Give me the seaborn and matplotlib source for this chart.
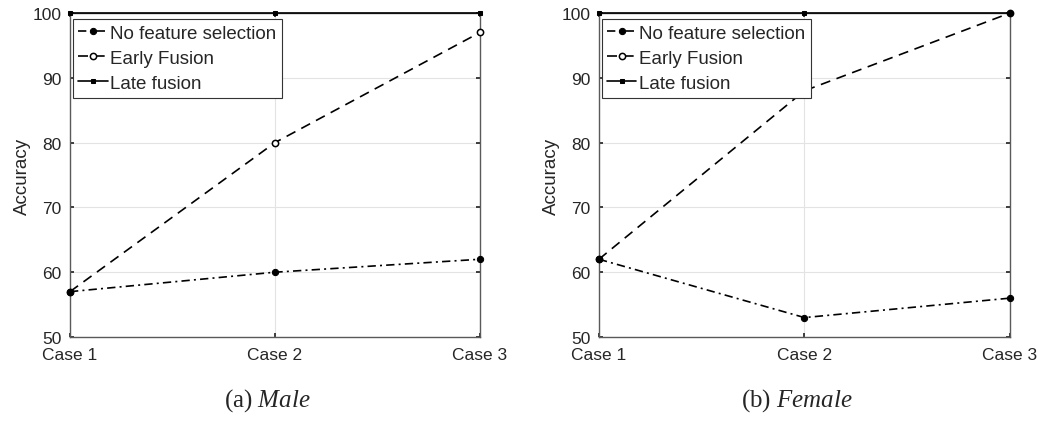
import matplotlib
matplotlib.use("Agg")
import matplotlib.pyplot as plt
import seaborn as sns
import pandas as pd

cases = ["Case 1", "Case 2", "Case 3"]
series_names = ["No feature selection", "Early Fusion", "Late fusion"]

male_no_fs = [57, 60, 62]
male_early = [57, 80, 97]
male_late = [100, 100, 100]

female_no_fs = [62, 53, 56]
female_early = [62, 88, 100]
female_late = [100, 100, 100]

y_ticks = [50, 60, 70, 80, 90, 100]

sns.set_theme(style="whitegrid")
plt.rcParams["font.family"] = ["Liberation Sans", "DejaVu Sans"]
plt.rcParams["mathtext.fontset"] = "custom"
plt.rcParams["mathtext.rm"] = "Liberation Serif"
plt.rcParams["mathtext.it"] = "Liberation Serif:italic"

styles = {
    "No feature selection": dict(linestyle=(0, (5, 2.5, 1.2, 2.5)), marker="o", markersize=4.5,
                                 markerfacecolor="black", markeredgecolor="black", zorder=4),
    "Early Fusion": dict(linestyle=(0, (6, 4)), marker="o", markersize=4.5,
                         markerfacecolor="white", markeredgecolor="black", markeredgewidth=1.1,
                         zorder=3),
    "Late fusion": dict(linestyle="-", marker="s", markersize=3.5,
                        markerfacecolor="black", markeredgecolor="black", zorder=3),
}


def build_frame(no_fs, early, late):
    rows = []
    for name, vals in zip(series_names, [no_fs, early, late]):
        for i, v in enumerate(vals):
            rows.append({"x": i, "Accuracy": v, "series": name})
    return pd.DataFrame(rows)


fig = plt.figure(figsize=(10.38, 4.27), dpi=100)
ax1 = fig.add_axes([0.0674, 0.2084, 0.395, 0.7588])
ax2 = fig.add_axes([0.577, 0.2084, 0.396, 0.7588])

panels = [
    (ax1, build_frame(male_no_fs, male_early, male_late), r"(a) $\mathit{Male}$"),
    (ax2, build_frame(female_no_fs, female_early, female_late), r"(b) $\mathit{Female}$"),
]

for ax, df, caption in panels:
    for name in series_names:
        sub = df[df["series"] == name]
        sns.lineplot(data=sub, x="x", y="Accuracy", ax=ax, color="black",
                     linewidth=1.2, label=name, clip_on=False,
                     **styles[name])
    ax.set_xlim(0, 2)
    ax.set_ylim(50, 100)
    ax.set_xticks(range(len(cases)))
    ax.set_xticklabels(cases)
    ax.set_yticks(y_ticks)
    ax.set_xlabel("")
    ax.set_ylabel("Accuracy", fontsize=13.5, color="#262626", labelpad=1.5)
    ax.tick_params(axis="both", labelsize=12.5, colors="#262626", length=3,
                   direction="in")
    ax.tick_params(axis="y", pad=6)
    ax.tick_params(axis="x", pad=7)
    ax.tick_params(axis="both", which="both", left=True, bottom=True, top=True, right=True)
    ax.grid(True, color="#e3e3e3", linewidth=0.8)
    for sp in ax.spines.values():
        sp.set_visible(True)
        sp.set_color("#5a5a5a")
        sp.set_linewidth(1.0)
    ax.set_facecolor("white")
    leg = ax.legend(loc="upper left", bbox_to_anchor=(0.007, 0.981), fontsize=13.5,
                    frameon=True, fancybox=False, borderpad=0.3, labelspacing=0.42,
                    handlelength=1.55, handletextpad=0.15, borderaxespad=0.0)
    leg.get_frame().set_edgecolor("#333333")
    leg.get_frame().set_linewidth(0.8)
    leg.get_frame().set_alpha(1.0)
    leg.set_zorder(5)
    # caption below the panel
    pos = ax.get_position()
    cx = (pos.x0 + pos.x1) / 2 - 0.007
    fig.text(cx, 0.063, caption, ha="center", va="center", fontsize=18,
             family="Liberation Serif")

fig.savefig("out.png", dpi=100)
